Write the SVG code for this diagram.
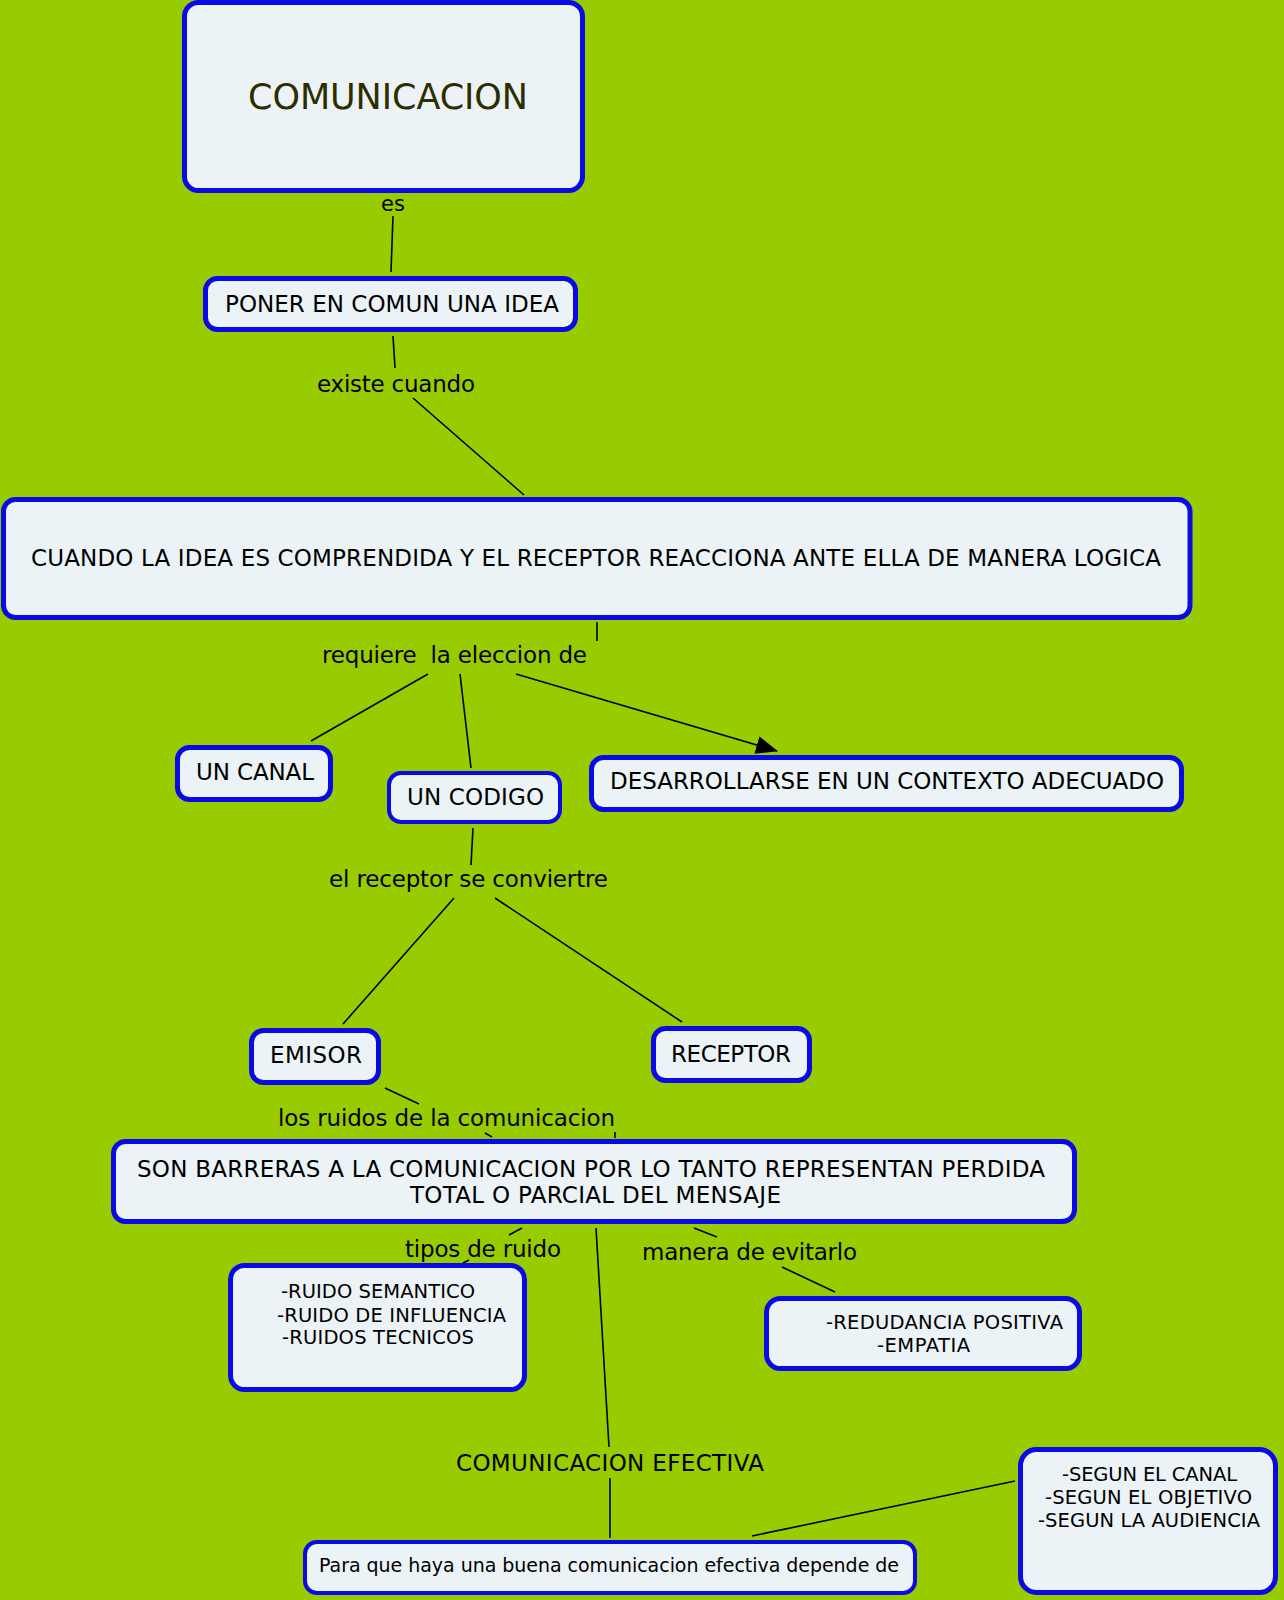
<svg xmlns="http://www.w3.org/2000/svg" width="1284" height="1600" viewBox="0 0 1284 1600">
<style>
.node{fill:#ECF3F6;stroke:#0A0AE6;stroke-width:5}
.thin{stroke-width:4}
.t{font-family:"DejaVu Sans",Verdana,sans-serif;font-size:23px;fill:#000}
.s{font-size:19.5px}
.lbl{font-family:"DejaVu Sans",Verdana,sans-serif;font-size:23px;fill:#000}
.c{stroke:#000;stroke-width:1.6;fill:none}
</style>
<defs>
<marker id="arr" markerUnits="userSpaceOnUse" markerWidth="22" markerHeight="18" refX="21" refY="9" orient="auto">
<path d="M0,0 L22,9 L0,18 Z" fill="#000"/>
</marker>
</defs>
<rect width="1284" height="1600" fill="#99CC00"/>
<g id="connectors">
<line class="c" x1="393" y1="216" x2="391" y2="272"/>
<line class="c" x1="393" y1="336" x2="395" y2="368"/>
<line class="c" x1="413" y1="398" x2="524" y2="495"/>
<line class="c" x1="597" y1="622" x2="597" y2="641"/>
<line class="c" x1="428" y1="674" x2="311" y2="741"/>
<line class="c" x1="460" y1="674" x2="471" y2="768"/>
<line class="c" x1="516" y1="674" x2="777" y2="751" marker-end="url(#arr)"/>
<line class="c" x1="473" y1="828" x2="471" y2="865"/>
<line class="c" x1="454" y1="898" x2="343" y2="1024"/>
<line class="c" x1="495" y1="898" x2="682" y2="1022"/>
<line class="c" x1="385" y1="1088" x2="419" y2="1104"/>
<line class="c" x1="485" y1="1133" x2="492" y2="1137"/>
<line class="c" x1="615" y1="1132" x2="615" y2="1138"/>
<line class="c" x1="522" y1="1228" x2="509" y2="1235"/>
<line class="c" x1="596" y1="1228" x2="609" y2="1447"/>
<line class="c" x1="694" y1="1228" x2="717" y2="1237"/>
<line class="c" x1="463" y1="1263" x2="469" y2="1260"/>
<line class="c" x1="782" y1="1267" x2="835" y2="1292"/>
<line class="c" x1="610" y1="1478" x2="610" y2="1538"/>
<line class="c" x1="752" y1="1536" x2="1015" y2="1481"/>
</g>
<g id="labels">
<text class="lbl" x="393" y="211" style="font-size:21px" text-anchor="middle">es</text>
<text class="lbl" x="317" y="392" textLength="158">existe cuando</text>
<text class="lbl" x="322" y="663" textLength="265" xml:space="preserve">requiere  la eleccion de</text>
<text class="lbl" x="329" y="887" textLength="279">el receptor se conviertre</text>
<text class="lbl" x="278" y="1126" textLength="337">los ruidos de la comunicacion</text>
<text class="lbl" x="405" y="1257" textLength="156">tipos de ruido</text>
<text class="lbl" x="642" y="1260" textLength="215">manera de evitarlo</text>
<text class="lbl" x="456" y="1471" textLength="308">COMUNICACION EFECTIVA</text>
</g>
<g id="n-comunicacion">
<rect class="node" x="184.5" y="2.5" width="398" height="188" rx="14"/>
<text class="t" x="248" y="109" style="font-size:35px;fill:#2D2D00" textLength="280">COMUNICACION</text>
</g>
<g id="n-poner">
<rect class="node" x="205.5" y="278.5" width="370" height="51" rx="12"/>
<text class="t" x="225" y="312" textLength="334">PONER EN COMUN UNA IDEA</text>
</g>
<g id="n-cuando">
<rect class="node" x="3.5" y="499.5" width="1186.5" height="118" rx="12"/>
<text class="t" x="31" y="566" textLength="1130">CUANDO LA IDEA ES COMPRENDIDA Y EL RECEPTOR REACCIONA ANTE ELLA DE MANERA LOGICA</text>
</g>
<g id="n-canal">
<rect class="node" x="177.5" y="747.5" width="153" height="52" rx="12"/>
<text class="t" x="196" y="780" textLength="118">UN CANAL</text>
</g>
<g id="n-codigo">
<rect class="node thin" x="389" y="773" width="171" height="49" rx="12"/>
<text class="t" x="407" y="805" textLength="137">UN CODIGO</text>
</g>
<g id="n-desarrollarse">
<rect class="node" x="591.5" y="757.5" width="590" height="52" rx="12"/>
<text class="t" x="610" y="789" textLength="554">DESARROLLARSE EN UN CONTEXTO ADECUADO</text>
</g>
<g id="n-emisor">
<rect class="node" x="251.5" y="1030.5" width="127" height="52" rx="12"/>
<text class="t" x="270" y="1063" textLength="92">EMISOR</text>
</g>
<g id="n-receptor">
<rect class="node" x="653.5" y="1028.5" width="156" height="52" rx="12"/>
<text class="t" x="671" y="1062" textLength="120">RECEPTOR</text>
</g>
<g id="n-barreras">
<rect class="node" x="113.5" y="1141.5" width="961" height="80" rx="12"/>
<text class="t" x="137" y="1177" textLength="908">SON BARRERAS A LA COMUNICACION POR LO TANTO REPRESENTAN PERDIDA</text>
<text class="t" x="410" y="1203" textLength="371">TOTAL O PARCIAL DEL MENSAJE</text>
</g>
<g id="n-ruidos">
<rect class="node" x="230.5" y="1265.5" width="294" height="124" rx="14"/>
<text class="t s" x="281" y="1298" textLength="194">-RUIDO SEMANTICO</text>
<text class="t s" x="277" y="1322" textLength="229">-RUIDO DE INFLUENCIA</text>
<text class="t s" x="282" y="1344" textLength="192">-RUIDOS TECNICOS</text>
</g>
<g id="n-evitar">
<rect class="node" x="766.5" y="1298.5" width="313" height="70" rx="14"/>
<text class="t s" x="826" y="1329" textLength="237">-REDUDANCIA POSITIVA</text>
<text class="t s" x="877" y="1352" textLength="93">-EMPATIA</text>
</g>
<g id="n-para">
<rect class="node thin" x="305" y="1542" width="610" height="51" rx="12"/>
<text class="t" x="319" y="1572" style="font-size:19px" textLength="580">Para que haya una buena comunicacion efectiva depende de</text>
</g>
<g id="n-segun">
<rect class="node" x="1020.5" y="1449.5" width="255" height="143" rx="16"/>
<text class="t s" x="1062" y="1481" textLength="175">-SEGUN EL CANAL</text>
<text class="t s" x="1045" y="1504" textLength="207">-SEGUN EL OBJETIVO</text>
<text class="t s" x="1038" y="1527" textLength="222">-SEGUN LA AUDIENCIA</text>
</g>
</svg>
